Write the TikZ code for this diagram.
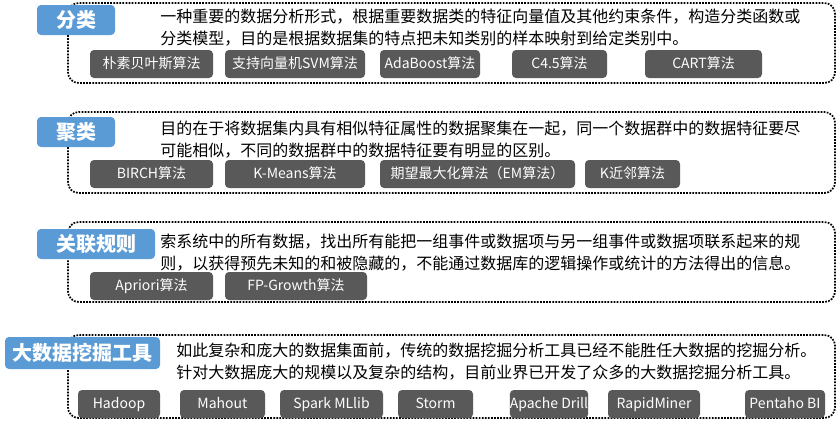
\documentclass[tikz,border=0pt]{standalone}
\usepackage{fontspec}
\setmainfont{Noto Sans CJK SC}
\usetikzlibrary{calc}
\definecolor{catblue}{HTML}{5B9BD5}
\definecolor{algogray}{HTML}{595959}
\tikzset{
  group/.style={draw, densely dotted, line width=1.3pt, rounded corners=8pt},
  cat/.style={fill=catblue, rounded corners=3pt, text=white, font=\fontsize{15}{15}\selectfont\bfseries, inner sep=0pt},
  algo/.style={fill=algogray, rounded corners=3pt, text=white, font=\fontsize{10.5}{10.5}\selectfont, inner sep=0pt, text height=8.5pt, text depth=2pt},
  desc/.style={anchor=north west, align=left, inner sep=0pt, font=\fontsize{12}{16.5}\selectfont}
}
\begin{document}
\begin{tikzpicture}[x=0.75pt, y=-0.75pt]
\useasboundingbox (0,0) rectangle (839,422);
% groups
\draw[group] (68,3) rectangle (835,83);
\draw[group] (68,112) rectangle (835,193);
\draw[group] (68,222) rectangle (835,302);
\draw[group] (68,335) rectangle (835,418);
% category labels
\node[cat, minimum width=78*0.75pt, minimum height=30*0.75pt] (fenlei) at (76,20) {分类};
\node[cat, minimum width=78*0.75pt, minimum height=30*0.75pt] (julei) at (76,132) {聚类};
\node[cat, minimum width=118*0.75pt, minimum height=30*0.75pt] (guize) at (96,244) {关联规则};
\node[cat, minimum width=155*0.75pt, minimum height=32*0.75pt] (dashuju) at (82.5,353) {大数据挖掘工具};
% descriptions
\node[desc] (d1) at (160,9) {一种重要的数据分析形式，根据重要数据类的特征向量值及其他约束条件，构造分类函数或\\分类模型，目的是根据数据集的特点把未知类别的样本映射到给定类别中。};
\node[desc] (d2) at (160,121) {目的在于将数据集内具有相似特征属性的数据聚集在一起，同一个数据群中的数据特征要尽\\可能相似，不同的数据群中的数据特征要有明显的区别。};
\node[desc] (d3) at (160,234) {索系统中的所有数据，找出所有能把一组事件或数据项与另一组事件或数据项联系起来的规\\则，以获得预先未知的和被隐藏的，不能通过数据库的逻辑操作或统计的方法得出的信息。};
\node[desc] (d4) at (176,343) {如此复杂和庞大的数据集面前，传统的数据挖掘分析工具已经不能胜任大数据的挖掘分析。\\针对大数据庞大的规模以及复杂的结构，目前业界已开发了众多的大数据挖掘分析工具。};
% algorithms
\foreach \n/\a/\b/\t in {a1/90/213/朴素贝叶斯算法, a2/225/365/支持向量机SVM算法, a3/380/480/AdaBoost算法, a4/512/607/C4.5算法, a5/645/762/CART算法}
  \node[algo, minimum width={(\b-\a)*0.75pt}, minimum height=28*0.75pt] (\n) at ({(\a+\b)/2},64) {\t};
\foreach \n/\a/\b/\t in {b1/90/213/BIRCH算法, b2/225/365/K-Means算法, b3/380/575/期望最大化算法（EM算法）, b4/585/680/K近邻算法}
  \node[algo, minimum width={(\b-\a)*0.75pt}, minimum height=28*0.75pt] (\n) at ({(\a+\b)/2},174) {\t};
\foreach \n/\a/\b/\t in {c1/90/213/Apriori算法, c2/225/367/FP-Growth算法}
  \node[algo, minimum width={(\b-\a)*0.75pt}, minimum height=28*0.75pt] (\n) at ({(\a+\b)/2},286) {\t};
\foreach \n/\a/\b/\t in {t1/78/160/Hadoop, t2/180/265/Mahout, t3/280/383/Spark MLlib, t4/398/473/Storm, t5/510/588/Apache Drill, t6/608/700/RapidMiner, t7/745/825/Pentaho BI}
  \node[algo, minimum width={(\b-\a)*0.75pt}, minimum height=28*0.75pt] (\n) at ({(\a+\b)/2},404) {\t};
\end{tikzpicture}
\end{document}
